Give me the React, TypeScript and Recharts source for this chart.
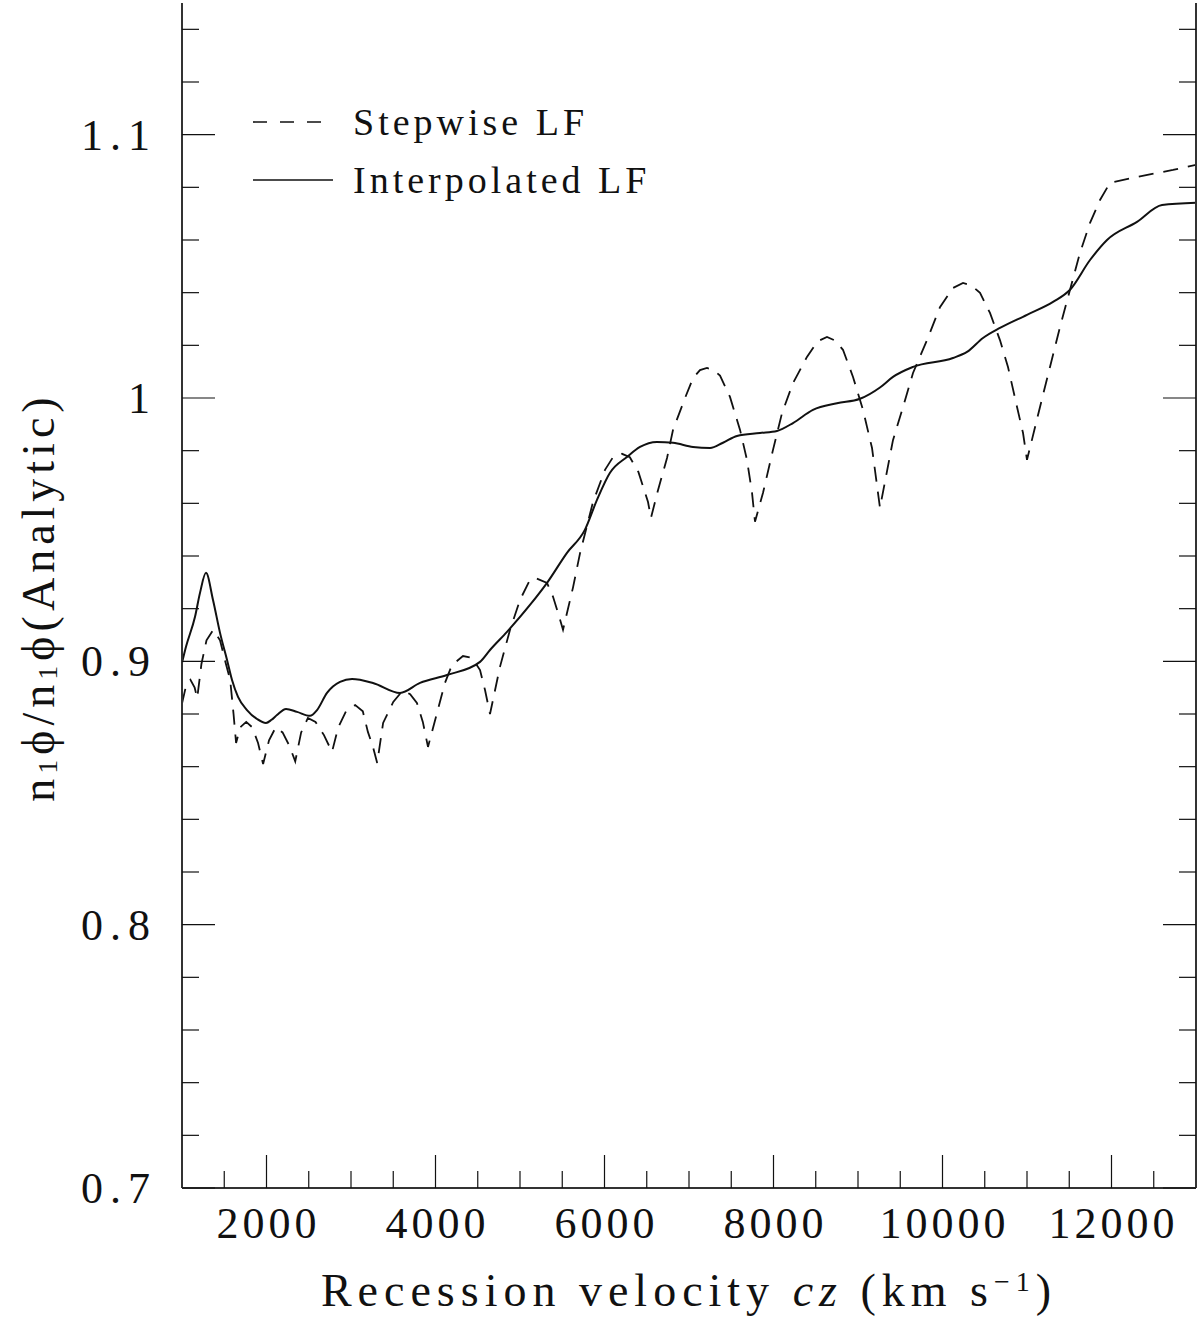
import React from "react";
import { LineChart, Line, XAxis, YAxis, Legend, Label } from "recharts";

// stepwise LF ratio (dashed)
const stepCz = [
  1000, 1050, 1100, 1150, 1180,
  1230, 1290, 1370, 1450, 1520, 1570, 1610, 1640,
  1690, 1760, 1830, 1900, 1960,
  2030, 2110, 2190, 2270, 2340,
  2410, 2490, 2580, 2680, 2775,
  2850, 2940, 3050, 3140, 3200, 3260, 3310,
  3380, 3500, 3615, 3700, 3780, 3850, 3911,
  4018, 4112, 4195, 4325, 4432, 4527, 4586, 4645,
  4763, 4882, 5000, 5118, 5177, 5320, 5391, 5450, 5509,
  5627, 5710, 5864, 6006, 6100, 6207, 6300, 6400, 6460, 6515, 6550,
  6633, 6740, 6811, 6953, 7047, 7130, 7213, 7290, 7367, 7485, 7604, 7686, 7746, 7781,
  7876, 7994, 8101, 8231, 8396, 8520, 8633, 8730, 8822, 8941, 9059, 9166, 9220, 9260,
  9414, 9533, 9651, 9817, 9970, 10124, 10243, 10340, 10444, 10562, 10680, 10775, 10882, 10953, 11000,
  11154, 11272, 11391, 11509, 11627, 11746, 11864, 11982, 12254, 12500, 12728, 13000,
];
const stepRatio = [
  0.884, 0.891, 0.893, 0.89, 0.886,
  0.899, 0.908, 0.912, 0.908, 0.899, 0.893, 0.88, 0.869,
  0.875, 0.877, 0.875, 0.869, 0.861,
  0.87, 0.875, 0.873, 0.868, 0.862,
  0.873, 0.8785, 0.877, 0.872, 0.8656,
  0.875, 0.881, 0.8834, 0.881, 0.8732, 0.8675, 0.8614,
  0.8766, 0.8846, 0.889, 0.8875, 0.8842, 0.877, 0.8675,
  0.8804, 0.8918, 0.8986, 0.902, 0.9013, 0.8967, 0.8891, 0.88,
  0.8979, 0.912, 0.9233, 0.931, 0.9317, 0.9298, 0.9245, 0.9184, 0.912,
  0.928, 0.941, 0.9605, 0.9727, 0.9775, 0.9788, 0.9775, 0.972, 0.966, 0.9605, 0.9545,
  0.965, 0.9772, 0.9879, 1.0, 1.0075, 1.0106, 1.0114, 1.0106, 1.0085, 1.0004, 0.9879, 0.9765, 0.964, 0.953,
  0.964, 0.9803, 0.9943, 1.0057, 1.0156, 1.0215, 1.0232, 1.0218, 1.0183, 1.008, 0.9955, 0.981, 0.968, 0.9583,
  0.984, 0.9966, 1.0095, 1.022, 1.0345, 1.0418, 1.0437, 1.0428, 1.0399, 1.0323, 1.022, 1.0118, 0.9966, 0.9867, 0.9765,
  0.9966, 1.0118, 1.027, 1.0411, 1.0551, 1.0665, 1.0752, 1.0817, 1.0836, 1.0852, 1.0866, 1.0885,
];

// interpolated LF ratio (solid)
const interpCz = [
  1000, 1047, 1154, 1213, 1284, 1367, 1450, 1533, 1592, 1663, 1769, 1888, 1994, 2060,
  2124, 2231, 2361, 2515, 2598, 2716, 2870, 3012, 3260, 3580, 3817, 4136, 4527, 4645,
  4846, 5118, 5320, 5556, 5769, 5911, 6065, 6266, 6420, 6621, 6811, 7047, 7249, 7402,
  7568, 7840, 8041, 8231, 8467, 8751, 9024, 9260, 9414, 9651, 10124, 10290, 10479, 10680,
  11000, 11308, 11509, 11746, 11947, 12302, 12598, 13000,
];
const interpRatio = [
  0.8994, 0.9055, 0.9169, 0.926, 0.9336, 0.9233, 0.9108, 0.9005, 0.8929, 0.8865, 0.8815, 0.8781, 0.8766, 0.8778,
  0.8796, 0.8819, 0.8808, 0.8793, 0.8815, 0.888, 0.8922, 0.8933, 0.8918, 0.888, 0.8918, 0.8948, 0.8998, 0.9043,
  0.9112, 0.9214, 0.9298, 0.9412, 0.95, 0.9613, 0.9716, 0.9776, 0.9814, 0.9833, 0.983, 0.9814, 0.981, 0.983,
  0.9856, 0.9867, 0.9875, 0.9905, 0.9955, 0.998, 0.9997, 1.004, 1.008, 1.0118, 1.0152, 1.0175, 1.0228, 1.0266,
  1.0316, 1.0365, 1.0411, 1.0524, 1.06, 1.0669, 1.0733, 1.0741,
];

const xMajor = [2000, 4000, 6000, 8000, 10000, 12000];
const xTicks = [
  1500, 2000, 2500, 3000, 3500, 4000, 4500, 5000, 5500, 6000, 6500, 7000,
  7500, 8000, 8500, 9000, 9500, 10000, 10500, 11000, 11500, 12000, 12500,
];
const yMajor = [0.7, 0.8, 0.9, 1, 1.1];
const yTicks = [
  0.7, 0.72, 0.74, 0.76, 0.78, 0.8, 0.82, 0.84, 0.86, 0.88, 0.9, 0.92,
  0.94, 0.96, 0.98, 1, 1.02, 1.04, 1.06, 1.08, 1.1, 1.12, 1.14,
];

const stepData = stepCz.map((cz, i) => ({ cz, ratio: stepRatio[i] }));
const interpData = interpCz.map((cz, i) => ({ cz, ratio: interpRatio[i] }));

const FONT = '"Liberation Serif", "DejaVu Serif", serif';
const INK = "#111";
const MAJOR = 33;
const MINOR = 17;
const isMajorY = (v) => yMajor.some((m) => Math.abs(m - v) < 1e-6);

const BottomTick = (props) => {
  const { x, y, payload } = props;
  const major = xMajor.includes(payload.value);
  return (
    <g>
      <line x1={x} x2={x} y1={y} y2={y - (major ? MAJOR : MINOR)} stroke={INK} strokeWidth={1.2} />
      {major && (
        <text x={x + 2} y={y + 50} textAnchor="middle" fontSize={44} letterSpacing={4} fill={INK} fontFamily={FONT}>
          {payload.value}
        </text>
      )}
    </g>
  );
};

const TopTick = (props) => {
  const { x, y, payload } = props;
  const major = xMajor.includes(payload.value);
  return <line x1={x} x2={x} y1={y} y2={y + (major ? MAJOR : MINOR)} stroke={INK} strokeWidth={1.2} />;
};

const LeftTick = (props) => {
  const { x, y, payload } = props;
  const major = isMajorY(payload.value);
  return (
    <g>
      <line x1={x} x2={x + (major ? MAJOR : MINOR)} y1={y} y2={y} stroke={INK} strokeWidth={1.2} />
      {major && (
        <text x={x - 25} y={y + 15} textAnchor="end" fontSize={44} letterSpacing={7} fill={INK} fontFamily={FONT}>
          {String(payload.value)}
        </text>
      )}
    </g>
  );
};

const RightTick = (props) => {
  const { x, y, payload } = props;
  const major = isMajorY(payload.value);
  return <line x1={x} x2={x - (major ? MAJOR : MINOR)} y1={y} y2={y} stroke={INK} strokeWidth={1.2} />;
};

const XTitle = (props) => {
  const vb = props.viewBox || {};
  const cx = vb.x + vb.width / 2;
  return (
    <text x={cx} y={vb.y + 118} textAnchor="middle" fontSize={46} letterSpacing={6} fill={INK} fontFamily={FONT}>
      Recession velocity <tspan fontStyle="italic">cz</tspan> (km s
      <tspan dy={-15} fontSize={28}>−1</tspan>
      <tspan dy={15}>)</tspan>
    </text>
  );
};

const YTitle = () => {
  const cx = 38;
  const cy = 597;
  return (
    <text
      x={cx}
      y={cy}
      transform={`rotate(-90 ${cx} ${cy})`}
      textAnchor="middle"
      dominantBaseline="central"
      fontSize={46}
      letterSpacing={5}
      fill={INK}
      fontFamily={FONT}
    >
      n<tspan dy={9} fontSize={28}>1</tspan>
      <tspan dy={-9}>ϕ/n</tspan>
      <tspan dy={9} fontSize={28}>1</tspan>
      <tspan dy={-9}>ϕ(Analytic)</tspan>
    </text>
  );
};

const LegendBox = () => {
  const row = { display: "flex", alignItems: "center", height: 58 };
  const txt = { fontFamily: FONT, fontSize: 38, letterSpacing: 4, color: INK, marginLeft: 20, lineHeight: "58px" };
  return (
    <div>
      <div style={row}>
        <svg width={80} height={58}>
          <line x1={0} x2={80} y1={29} y2={29} stroke={INK} strokeWidth={1.6} strokeDasharray="14 13" />
        </svg>
        <span style={txt}>Stepwise LF</span>
      </div>
      <div style={row}>
        <svg width={80} height={58}>
          <line x1={0} x2={80} y1={29} y2={29} stroke={INK} strokeWidth={1.6} />
        </svg>
        <span style={txt}>Interpolated LF</span>
      </div>
    </div>
  );
};

const axisStroke = { stroke: "#333", strokeWidth: 2 };

export default function App() {
  return (
    <div style={{ position: "absolute", left: 0, top: 0, width: 1198, height: 1319, background: "#fff" }}>
      <LineChart width={1198} height={1319} margin={{ top: 3, right: 0, bottom: 0, left: 0 }}>
        <XAxis
          xAxisId="b"
          dataKey="cz"
          type="number"
          domain={[1000, 13000]}
          allowDataOverflow
          ticks={xTicks}
          interval={0}
          orientation="bottom"
          height={131}
          tickLine={false}
          tickSize={0}
          tickMargin={0}
          axisLine={axisStroke}
          tick={<BottomTick />}
        >
          <Label content={<XTitle />} />
        </XAxis>
        <XAxis
          xAxisId="t"
          dataKey="cz"
          type="number"
          domain={[1000, 13000]}
          allowDataOverflow
          ticks={xTicks}
          interval={0}
          orientation="top"
          height={0}
          tickLine={false}
          tickSize={0}
          tickMargin={0}
          axisLine={axisStroke}
          tick={<TopTick />}
        />
        <YAxis
          yAxisId="l"
          type="number"
          domain={[0.7, 1.15]}
          allowDataOverflow
          ticks={yTicks}
          interval={0}
          width={182}
          tickLine={false}
          tickSize={0}
          tickMargin={0}
          axisLine={axisStroke}
          tick={<LeftTick />}
        >
          <Label content={<YTitle />} />
        </YAxis>
        <YAxis
          yAxisId="r"
          orientation="right"
          type="number"
          domain={[0.7, 1.15]}
          allowDataOverflow
          ticks={yTicks}
          interval={0}
          width={2}
          tickLine={false}
          tickSize={0}
          tickMargin={0}
          axisLine={axisStroke}
          tick={<RightTick />}
        />
        <Legend
          layout="vertical"
          align="center"
          verticalAlign="middle"
          wrapperStyle={{ left: 253, top: 93, width: 500, height: 116 }}
          content={<LegendBox />}
        />
        <Line
          xAxisId="b"
          yAxisId="l"
          data={stepData}
          dataKey="ratio"
          type="linear"
          stroke={INK}
          strokeWidth={1.8}
          strokeDasharray="15 10"
          dot={false}
          isAnimationActive={false}
        />
        <Line
          xAxisId="b"
          yAxisId="l"
          data={interpData}
          dataKey="ratio"
          type="monotone"
          stroke={INK}
          strokeWidth={2}
          dot={false}
          isAnimationActive={false}
        />
      </LineChart>
    </div>
  );
}
